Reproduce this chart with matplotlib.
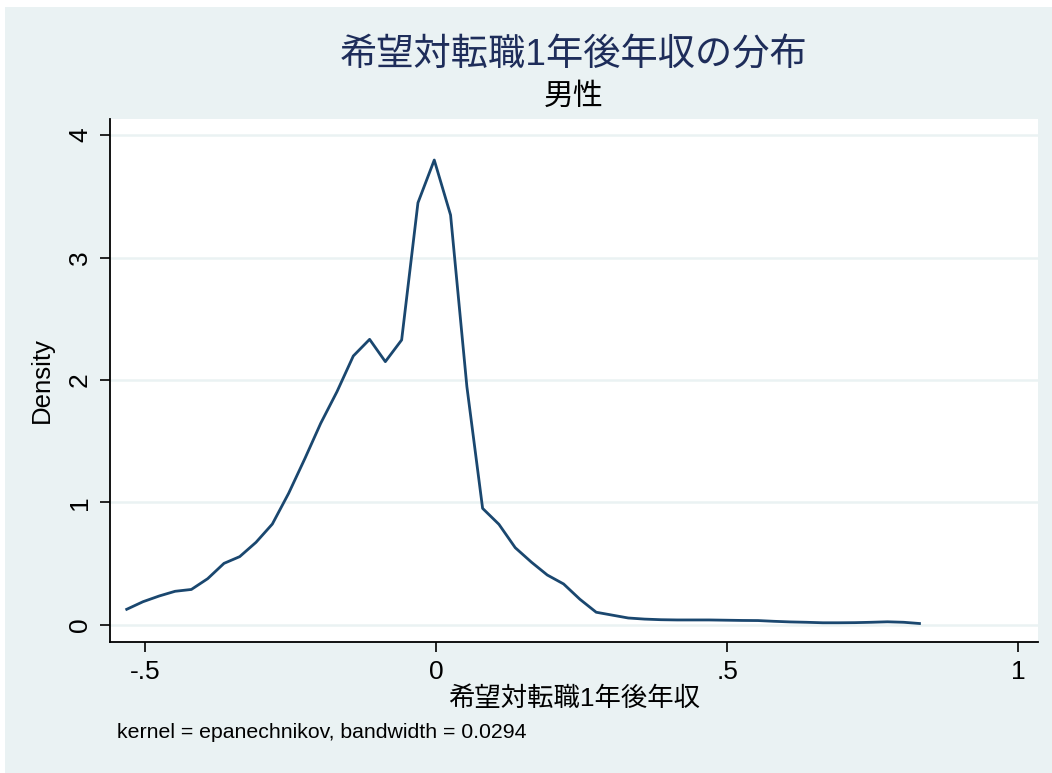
import matplotlib
matplotlib.use("Agg")
import matplotlib.pyplot as plt
from matplotlib.patches import Rectangle

plt.rcParams['font.family'] = ['Liberation Sans', 'Noto Sans CJK JP', 'DejaVu Sans']

# kernel density estimate, 50 evaluation points
grid_x = [-0.531, -0.503, -0.475, -0.448, -0.420, -0.392, -0.364, -0.337, -0.309, -0.281,
          -0.253, -0.225, -0.198, -0.170, -0.142, -0.114, -0.087, -0.059, -0.031, -0.003,
          0.025, 0.053, 0.080, 0.108, 0.136, 0.164, 0.191, 0.219, 0.247, 0.275,
          0.303, 0.330, 0.358, 0.386, 0.414, 0.441, 0.469, 0.497, 0.525, 0.553,
          0.580, 0.608, 0.636, 0.664, 0.691, 0.719, 0.747, 0.775, 0.803, 0.830]
density = [0.128, 0.190, 0.237, 0.275, 0.290, 0.378, 0.503, 0.558, 0.675, 0.824,
           1.075, 1.360, 1.646, 1.905, 2.196, 2.332, 2.150, 2.327, 3.447, 3.796,
           3.347, 1.946, 0.952, 0.822, 0.631, 0.512, 0.408, 0.335, 0.210, 0.104,
           0.080, 0.057, 0.048, 0.043, 0.041, 0.041, 0.041, 0.039, 0.037, 0.036,
           0.030, 0.025, 0.022, 0.018, 0.018, 0.019, 0.022, 0.026, 0.022, 0.012]

xticks = [-0.5, 0, 0.5, 1]
xticklabels = ['-.5', '0', '.5', '1']
yticks = [0, 1, 2, 3, 4]

bg = '#EAF2F3'
navy = '#1A476F'

fig = plt.figure(figsize=(10.52, 7.73), dpi=100, facecolor='white')
fig.patches.append(Rectangle((5/1052, 0), 1, 1 - 7/773, transform=fig.transFigure,
                             facecolor=bg, edgecolor='none', zorder=-10))

ax = fig.add_axes([110/1052, 131/773, 928/1052, 523/773])
ax.set_facecolor('white')
ax.plot(grid_x, density, color=navy, lw=2.0, zorder=3)

ax.set_xlim(-0.5597, 1.0335)
ax.set_ylim(-0.139, 4.131)
ax.set_xticks(xticks)
ax.set_xticklabels(xticklabels)
ax.set_yticks(yticks)
ax.set_yticklabels([str(v) for v in yticks], rotation=90, va='center')
ax.yaxis.grid(True, color=bg, lw=1.8, zorder=0)
ax.set_axisbelow(True)

for s in ['top', 'right']:
    ax.spines[s].set_visible(False)
for s in ['left', 'bottom']:
    ax.spines[s].set_color('black')
    ax.spines[s].set_linewidth(1.3)
ax.tick_params(axis='both', length=7, width=1.2, color='black', labelsize=19, pad=6)

ax.set_xlabel('希望対転職1年後年収', fontsize=19, labelpad=2)
ax.set_ylabel('Density', fontsize=18.5, labelpad=10)

fig.text(574/1052, 1 - 55/773, '希望対転職1年後年収の分布', ha='center', va='center',
         fontsize=26.8, color='#1E2D5A')
fig.text(574/1052, 1 - 97/773, '男性', ha='center', va='center', fontsize=21.5, color='black')
fig.text(117/1052, 1 - 733/773, 'kernel = epanechnikov, bandwidth = 0.0294', ha='left',
         va='center', fontsize=15.3, color='black')

fig.savefig('out.png', dpi=100, facecolor='white')
